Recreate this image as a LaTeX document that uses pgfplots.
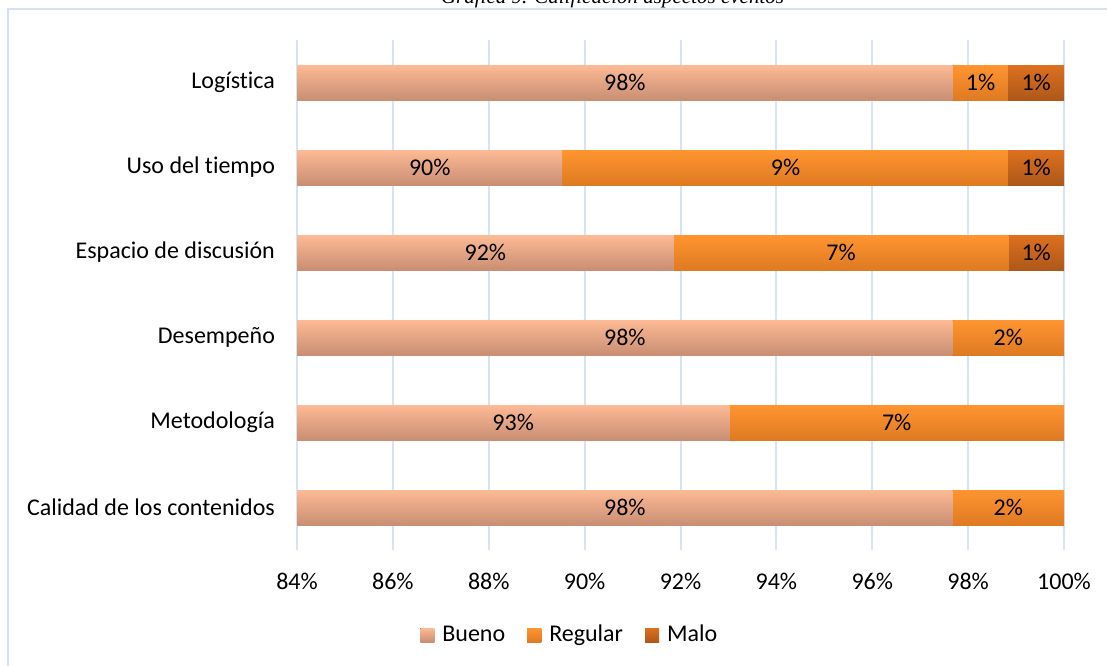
\documentclass[border=0pt]{standalone}
\usepackage{pgfplots}
\pgfplotsset{compat=1.18}
\usepackage{fontspec}
\setmainfont{Carlito}[Ligatures={NoCommon}]
\newfontfamily\titlefont{Liberation Serif}
\definecolor{gridc}{HTML}{D7E2F2}
\definecolor{framec}{HTML}{D6E2F3}
\definecolor{bTop}{HTML}{FDBA95}
\definecolor{bBot}{HTML}{C98E73}
\definecolor{rTop}{HTML}{FF9530}
\definecolor{rBot}{HTML}{DE7A22}
\definecolor{mTop}{HTML}{DD701F}
\definecolor{mBot}{HTML}{AD5819}
\pgfplotsset{
  common/.style={
    scale only axis, width=383.5pt, height=255pt,
    at={(148.5pt,-275pt)}, anchor=south west,
    xmin=84, xmax=100, ymin=-0.5, ymax=5.5,
  },
  bueno/.style={draw=none, top color=bTop, bottom color=bBot, bar shift=0pt, bar width=17.5pt, forget plot},
  regular/.style={draw=none, top color=rTop, bottom color=rBot, bar shift=0pt, bar width=17.5pt, forget plot},
  malo/.style={draw=none, top color=mTop, bottom color=mBot, bar shift=0pt, bar width=17.5pt, forget plot},
}
\begin{document}
\begin{tikzpicture}
\useasboundingbox (0,0) rectangle (553.5pt,-332.5pt);
\clip (0,0) rectangle (553.5pt,-332.5pt);
\draw[framec, line width=1pt] (4pt,-4.5pt) rectangle (600pt,-400pt);
\node[anchor=base, font=\titlefont\itshape\fontsize{10.5}{12}\selectfont] at (306.25pt,-1.5pt) {Gráfica 9. Calificación aspectos eventos};
\begin{axis}[common,
  xbar, bar width=17.5pt,
  axis line style={draw=none},
  xmajorgrids, grid style={gridc, line width=1pt},
  xtick={84,86,...,100},
  xticklabel={\pgfmathprintnumber{\tick}\%},
  xticklabel style={yshift=-8pt},
  ytick={0,...,5},
  yticklabels={Calidad de los contenidos, Metodología, Desempeño, Espacio de discusión, Uso del tiempo, Logística},
  yticklabel style={xshift=-7.5pt},
  major tick length=0pt,
  tick label style={font=\fontsize{12}{14}\selectfont},
  /pgf/number format/assume math mode=true,
  legend style={draw=none, legend columns=3, at={(0.357,-0.1667)}, anchor=center,
    font=\fontsize{12}{14}\selectfont,
    /tikz/every even column/.append style={column sep=9pt}},
  legend image code/.code={\fill[#1] (0pt,-3.5pt) rectangle (7pt,3.5pt); \path (0pt,0pt) -- (9pt,0pt);},
]
% cumulative ends of each segment (Bueno | Bueno+Regular | 100)
\addplot[malo] coordinates {(100,3)};
\addplot[malo] coordinates {(100,4)};
\addplot[malo] coordinates {(100,5)};
\addplot[regular] coordinates {(100,0)};
\addplot[regular] coordinates {(100,1)};
\addplot[regular] coordinates {(100,2)};
\addplot[regular] coordinates {(98.84,3)};
\addplot[regular] coordinates {(98.83,4)};
\addplot[regular] coordinates {(98.83,5)};
\addplot[bueno] coordinates {(97.67,0)};
\addplot[bueno] coordinates {(93.02,1)};
\addplot[bueno] coordinates {(97.67,2)};
\addplot[bueno] coordinates {(91.86,3)};
\addplot[bueno] coordinates {(89.53,4)};
\addplot[bueno] coordinates {(97.67,5)};
\addlegendimage{draw=none, top color=bTop, bottom color=bBot}
\addlegendimage{draw=none, top color=rTop, bottom color=rBot}
\addlegendimage{draw=none, top color=mTop, bottom color=mBot}
\legend{Bueno, Regular, Malo}
\end{axis}
\begin{axis}[common, hide axis]
\addplot[draw=none, mark=none, nodes near coords={\pgfplotspointmeta\%},
  point meta=explicit symbolic,
  every node near coord/.append style={anchor=center, font=\fontsize{12}{14}\selectfont, text=black}]
  table[meta=label] {
x y label
90.84 0 98
98.84 0 2
88.51 1 93
96.51 1 7
90.84 2 98
98.84 2 2
87.93 3 92
95.35 3 7
99.42 3 1
86.77 4 90
94.19 4 9
99.42 4 1
90.84 5 98
98.26 5 1
99.42 5 1
};
\end{axis}
\end{tikzpicture}
\end{document}
